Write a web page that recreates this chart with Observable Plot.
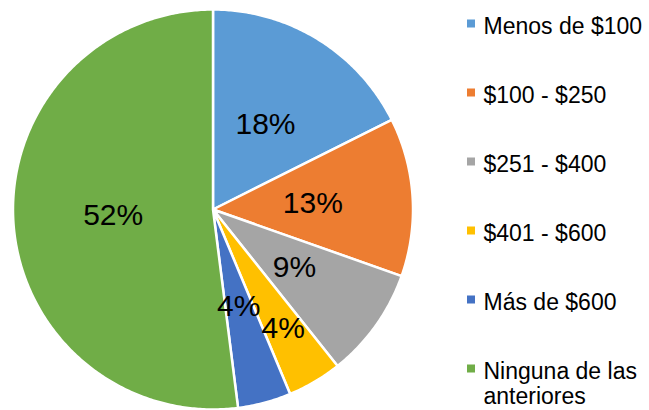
<!DOCTYPE html>
<html>
<head>
<meta charset="utf-8">
<script src="https://cdn.jsdelivr.net/npm/d3@7"></script>
<script src="https://cdn.jsdelivr.net/npm/@observablehq/plot@0.6"></script>
<style>
  html, body { margin: 0; padding: 0; background: #fff; }
  svg { font-family: Arial, "Liberation Sans", sans-serif; }
</style>
</head>
<body>
<div id="chart"></div>
<script>
// ---- data ----
const categories = ["Menos de $100", "$100 - $250", "$251 - $400", "$401 - $600", "Más de $600", "Ninguna de las\nanteriores"];
const shares = [17.6, 12.8, 8.9, 4.4, 4.3, 52.0];
const colors = ["#5B9BD5", "#ED7D31", "#A5A5A5", "#FFC000", "#4472C4", "#70AD47"];

// ---- layout ----
const W = 649, H = 410;
const cx = 212.5, cy = 209, R = 200;
const total = d3.sum(shares);

// compute slices with d3.pie (clockwise from 12 o'clock)
const arcs = d3.pie().sort(null).value(d => d)(shares);
const slicePts = [];
const labels = [];
arcs.forEach((a, i) => {
  const n = Math.max(4, Math.ceil((a.endAngle - a.startAngle) / 0.01));
  slicePts.push({cat: categories[i], x: cx, y: cy});
  for (let k = 0; k <= n; k++) {
    const t = a.startAngle + (a.endAngle - a.startAngle) * k / n;
    slicePts.push({cat: categories[i], x: cx + R * Math.sin(t), y: cy - R * Math.cos(t)});
  }
  const mid = (a.startAngle + a.endAngle) / 2;
  // small consecutive slices: push the second label outward to avoid overlap
  const small = shares[i] / total < 0.06 && i + 1 < shares.length && shares[i + 1] / total < 0.06;
  const lr = small ? 0.69 * R : 0.5 * R;
  labels.push({x: cx + lr * Math.sin(mid), y: cy - lr * Math.cos(mid), text: Math.round(shares[i] / total * 100) + "%"});
});

// legend rows
const legX = 471, legTextX = 483, legY0 = 32, legStep = 69, legFont = 23;
const legend = categories.map((c, i) => ({cat: c, baseline: legY0 + i * legStep}));

const chart = Plot.plot({
  width: W, height: H,
  margin: 0,
  x: {domain: [0, W], range: [0, W], axis: null},
  y: {domain: [0, H], range: [0, H], axis: null},
  color: {domain: categories, range: colors},
  marks: [
    Plot.line(slicePts, {x: "x", y: "y", z: "cat", fill: "cat", stroke: "white", strokeWidth: 2.5, curve: "linear-closed", strokeLinejoin: "round"}),
    Plot.text(labels, {x: "x", y: "y", text: "text", fontSize: 30, fill: "black", textAnchor: "middle"}),
    Plot.rect(legend, {x1: d => legX - 4, x2: d => legX + 4, y1: d => d.baseline - 12.5, y2: d => d.baseline - 4.5, fill: "cat"}),
    Plot.text(legend, {x: legTextX, y: d => d.baseline - legFont * 0.71, text: "cat", textAnchor: "start", lineAnchor: "top", fontSize: legFont, lineHeight: 1.09, fill: "#000"})
  ]
});
document.getElementById("chart").appendChild(chart);
</script>
</body>
</html>
